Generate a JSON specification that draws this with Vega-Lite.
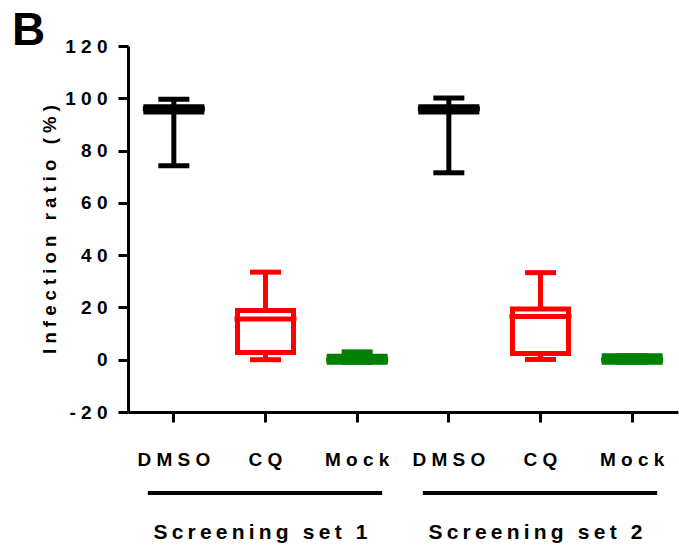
{
  "$schema": "https://vega.github.io/schema/vega-lite/v6.json",
  "width": 550,
  "height": 366,
  "autosize": {"type": "none"},
  "padding": {"left": 128, "top": 46, "right": 1, "bottom": 135},
  "background": "white",
  "title": {"text": "B", "anchor": "start", "frame": "group", "font": "Liberation Sans", "fontSize": 46, "fontWeight": "bold", "color": "black", "baseline": "alphabetic", "dx": -116, "dy": 58},
  "config": {
    "view": {"stroke": null},
    "font": "Liberation Sans",
    "axis": {
      "labelFont": "Liberation Sans", "labelFontWeight": "bold", "labelColor": "black",
      "tickSize": 10, "tickWidth": 3, "tickColor": "black",
      "domainColor": "black", "domainWidth": 3, "grid": false,
      "titleFont": "Liberation Sans", "titleFontWeight": "bold", "titleColor": "black"
    }
  },
  "resolve": {"axis": {"x": "independent"}},
  "layer": [
    {
      "data": {"values": [
        {"key": "DMSO-1", "treatment": "DMSO", "min": 74.2, "q1": 94.8, "median": 96, "q3": 96.8, "max": 99.6},
        {"key": "CQ-1", "treatment": "CQ", "min": 0, "q1": 2.8, "median": 15.6, "q3": 18.8, "max": 33.5},
        {"key": "Mock-1", "treatment": "Mock", "min": -1, "q1": -1, "median": 0, "q3": 1.3, "max": 3},
        {"key": "DMSO-2", "treatment": "DMSO", "min": 71.5, "q1": 94.8, "median": 96, "q3": 96.8, "max": 100.1},
        {"key": "CQ-2", "treatment": "CQ", "min": 0.1, "q1": 2.4, "median": 16.5, "q3": 19.4, "max": 33.3},
        {"key": "Mock-2", "treatment": "Mock", "min": -1, "q1": -1, "median": 0, "q3": 1.5, "max": 1.5}
      ]},
      "encoding": {
        "x": {
          "field": "key", "type": "nominal", "sort": null,
          "scale": {"domain": ["DMSO-1", "CQ-1", "Mock-1", "DMSO-2", "CQ-2", "Mock-2"], "paddingInner": 0, "paddingOuter": 0},
          "axis": {
            "orient": "bottom",
            "title": null,
            "labelExpr": "(datum.value == 'CQ-1' || datum.value == 'CQ-2') ? 'C Q' : (datum.value == 'DMSO-1' || datum.value == 'DMSO-2') ? 'D M S O' : 'M o c k'",
            "labelFontSize": 19, "labelAngle": 0, "labelPadding": 28,
            "labelOverlap": false, "labelBound": false, "labelLimit": 500
          }
        },
        "color": {"field": "treatment", "type": "nominal", "scale": {"domain": ["DMSO", "CQ", "Mock"], "range": ["#000000", "#ff0000", "#008000"]}, "legend": null}
      },
      "layer": [
        {
          "mark": {"type": "rule", "strokeWidth": 5},
          "encoding": {
            "y": {
              "field": "min", "type": "quantitative",
              "scale": {"domain": [-20, 120], "nice": false, "zero": false},
              "axis": {
                "title": "I n f e c t i o n \u00a0 r a t i o \u00a0 ( % )",
                "values": [-20, 0, 20, 40, 60, 80, 100, 120],
                "labelExpr": "datum.value == 120 ? '1 2 0' : datum.value == 100 ? '1 0 0' : datum.value == 80 ? '8 0' : datum.value == 60 ? '6 0' : datum.value == 40 ? '4 0' : datum.value == 20 ? '2 0' : datum.value == 0 ? '0' : '- 2 0'",
                "labelFontSize": 19, "labelPadding": 11,
                "titleFontSize": 18.5, "titlePadding": 5
              }
            },
            "y2": {"field": "max"}
          }
        },
        {
          "mark": {"type": "bar", "size": 56, "strokeWidth": 5},
          "encoding": {
            "y": {"field": "q1", "type": "quantitative"},
            "y2": {"field": "q3"},
            "color": {"value": "white"},
            "stroke": {"field": "treatment", "type": "nominal", "scale": {"domain": ["DMSO", "CQ", "Mock"], "range": ["#000000", "#ff0000", "#008000"]}, "legend": null}
          }
        },
        {
          "mark": {"type": "tick", "size": 62, "thickness": 5, "opacity": 1},
          "encoding": {"y": {"field": "median", "type": "quantitative"}}
        },
        {
          "mark": {"type": "tick", "size": 31, "thickness": 5, "opacity": 1},
          "encoding": {"y": {"field": "min", "type": "quantitative"}}
        },
        {
          "mark": {"type": "tick", "size": 31, "thickness": 5, "opacity": 1},
          "encoding": {"y": {"field": "max", "type": "quantitative"}}
        }
      ]
    },
    {
      "data": {"values": [
        {"set": "Screening set 1", "first": "DMSO-1", "last": "Mock-1"},
        {"set": "Screening set 2", "first": "DMSO-2", "last": "Mock-2"}
      ]},
      "mark": {"type": "rule", "strokeWidth": 4, "color": "black", "xOffset": -26, "x2Offset": 25},
      "encoding": {
        "x": {
          "field": "first", "type": "nominal", "sort": null,
          "axis": {
            "orient": "bottom",
            "title": null,
            "domain": false, "ticks": false, "tickSize": 0,
            "labelExpr": "datum.value == 'CQ-1' ? 'S\u2009c\u2009r\u2009e\u2009e\u2009n\u2009i\u2009n\u2009g\u2009\u00a0\u2009s\u2009e\u2009t\u2009\u00a0\u20091' : datum.value == 'CQ-2' ? 'S\u2009c\u2009r\u2009e\u2009e\u2009n\u2009i\u2009n\u2009g\u2009\u00a0\u2009s\u2009e\u2009t\u2009\u00a0\u20092' : ''",
            "labelFontSize": 21, "labelAngle": 0, "labelPadding": 109, "labelOffset": -5,
            "labelOverlap": false, "labelBound": false, "labelLimit": 500
          }
        },
        "x2": {"field": "last"},
        "y": {"datum": -51, "type": "quantitative"}
      }
    }
  ]
}
